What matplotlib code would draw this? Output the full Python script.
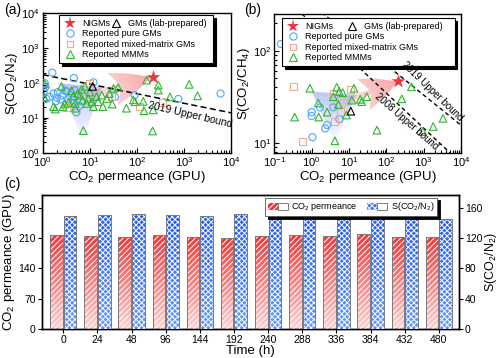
import numpy as np
import matplotlib
matplotlib.use('Agg')
import matplotlib.pyplot as plt
from matplotlib.patches import Polygon, FancyArrowPatch, Patch, ArrowStyle
from matplotlib.lines import Line2D
from matplotlib.legend_handler import HandlerTuple

plt.rcParams['font.family'] = ['Liberation Sans', 'DejaVu Sans']
plt.rcParams['mathtext.fontset'] = 'custom'
plt.rcParams['mathtext.rm'] = 'Liberation Sans'
plt.rcParams['mathtext.it'] = 'Liberation Sans:italic'
plt.rcParams['mathtext.bf'] = 'Liberation Sans:bold'
plt.rcParams['mathtext.default'] = 'regular'
plt.rcParams['hatch.linewidth'] = 0.7

# ---------------- panel (a) data: CO2/N2 ----------------
a_nigm_x = [220]
a_nigm_y = [150]
a_lab_x = [11.5]
a_lab_y = [80]
a_pure_x = [1.6, 4.6, 1.1, 1.15, 1.05, 1.2, 1.7, 2.1, 1.9, 2.4, 3.2, 3.5, 4.5, 4.8,
            5.2, 6.0, 2.6, 12, 34, 90, 760, 6000, 1.4, 3.0, 2.0]
a_pure_y = [200, 140, 100, 78, 58, 35, 50, 55, 30, 34, 58, 34, 33, 62,
            14.5, 22, 45, 105, 40, 45, 35, 50, 40, 60, 38]
a_mix_x = [10, 29, 116, 346, 3.2]
a_mix_y = [100, 41, 21, 27, 20]
a_mmm_x = [1.1, 1.07, 1.7, 1.85, 2.5, 2.7, 3.0, 4.1, 4.5, 4.9, 4.9, 6.2, 6.7, 7.3, 7.9,
           8.6, 9.3, 11, 12, 14, 15, 18, 19, 23, 30, 32, 40, 60, 84, 91, 137, 142, 161,
           216, 222, 285, 285, 505, 1290, 1950, 7.0, 3.5, 5.5, 10, 26]
a_mmm_y = [95, 40, 21, 18, 80, 21, 25, 60, 43, 26, 19, 45, 66, 4.3, 80,
           26, 36, 29, 21, 41, 29, 45, 21, 36, 25, 70, 75, 19, 33, 29, 30, 16, 122,
           4.2, 17, 88, 63, 40, 92, 43, 32, 28, 50, 55, 50]
a_ub2019_x = [1, 1e4]
a_ub2019_y = [175, 14]
a_blue_region_x = [2.3, 18, 7.0]
a_blue_region_y = [98, 75, 2.3]
a_arrow_tail = (5.0, 32.0)
a_arrow_head = (200.0, 145.0)

# ---------------- panel (b) data: CO2/CH4 ----------------
b_nigm_x = [200]
b_nigm_y = [47]
b_lab_x = [11.2]
b_lab_y = [22]
b_pure_x = [0.15, 1.0, 1.0, 1.05, 1.67, 2.3, 2.6, 3.8, 5.5]
b_pure_y = [118, 21.5, 19.5, 11.5, 24.2, 14.3, 15.6, 24.2, 18]
b_mix_x = [0.32, 0.58, 4.0, 6.0, 11.1, 3.8]
b_mix_y = [41, 10.4, 16.9, 21.7, 38, 34.4]
b_mmm_x = [0.9, 0.35, 1.5, 1.55, 2.6, 4.2, 3.8, 4.7, 5.5, 6.8, 8.6, 11.9, 13.6, 20, 22,
           30, 56, 260, 470, 950, 1800, 3300, 5.2]
b_mmm_y = [39, 19, 27, 19, 21.5, 10.5, 31.6, 40, 36, 35, 20, 29, 39, 29.6, 27.9,
           31.6, 13.7, 30, 40.5, 13.2, 15, 18.4, 26]
b_ub2019_x = [0.1, 1e4]
b_ub2019_y = [676, 15.5]
b_ub2008_x = [0.1, 1e4]
b_ub2008_y = [479, 6.0]
b_blue_region_x = [1.0, 16, 4.2]
b_blue_region_y = [36, 33, 10.3]
b_arrow_tail = (3.0, 24.0)
b_arrow_head = (195.0, 46.0)

# ---------------- panel (c) data: stability ----------------
times = ['0', '24', '48', '96', '144', '192', '240', '288', '336', '384', '432', '480']
perm = [217, 214.6, 212.3, 216.9, 213, 210.8, 214.6, 216.2, 214.6, 218.5, 213, 212.3]
sel = [149, 150.3, 151.2, 150.3, 149, 151.2, 151.2, 146, 149, 148.6, 146, 145.5]

RED = '#e8383d'
BLUE = '#4da6ff'
SAL = '#f4a98a'
GRN = '#2db82d'

fig = plt.figure(figsize=(5, 3.58), dpi=100)
axA = fig.add_axes([0.0854, 0.5735, 0.3766, 0.3888])
axB = fig.add_axes([0.5486, 0.5735, 0.3734, 0.3874])
axC = fig.add_axes([0.0834, 0.081, 0.8346, 0.3743])


def gradient_fill(ax, clip_patch, p0, p1, color, a0, a1, z):
    trans = ax.transData + ax.transAxes.inverted()
    q0, q1 = trans.transform([p0, p1])
    n = 300
    xs, ys = np.meshgrid(np.linspace(0, 1, n), np.linspace(0, 1, n))
    d = q1 - q0
    t = ((xs - q0[0]) * d[0] + (ys - q0[1]) * d[1]) / (d @ d)
    t = np.clip(t, 0, 1)
    img = np.zeros((n, n, 4))
    img[..., :3] = color
    img[..., 3] = a0 + (a1 - a0) * t
    im = ax.imshow(img, extent=[0, 1, 0, 1], transform=ax.transAxes, origin='lower',
                   aspect='auto', zorder=z, interpolation='bilinear')
    im.set_clip_path(clip_patch)


def style_log(ax):
    ax.set_xscale('log')
    ax.set_yscale('log')
    ax.tick_params(which='both', direction='in', labelsize=8, width=0.8, pad=2)
    ax.tick_params(which='major', length=3.5)
    ax.tick_params(which='minor', length=2)
    for s in ax.spines.values():
        s.set_linewidth(1.0)


def scatter_sets(ax, pure, mix, mmm, lab, nigm):
    ax.scatter(*pure, s=26, facecolors='none', edgecolors=BLUE, linewidths=0.8, zorder=3)
    ax.scatter(*mix, s=24, marker='s', facecolors='none', edgecolors=SAL, linewidths=0.8, zorder=3)
    ax.scatter(*mmm, s=30, marker='^', facecolors='none', edgecolors=GRN, linewidths=0.8, zorder=3)
    ax.scatter(*lab, s=30, marker='^', facecolors='none', edgecolors='k', linewidths=0.8, zorder=4)
    ax.scatter(*nigm, s=110, marker='*', color=RED, linewidths=0, zorder=5)


def legends(ax, bbox, x2):
    hN = Line2D([], [], ls='none', marker='*', ms=9.5, mfc=RED, mec=RED, mew=0)
    hP = Line2D([], [], ls='none', marker='o', ms=5.2, mfc='none', mec=BLUE, mew=0.8)
    hM = Line2D([], [], ls='none', marker='s', ms=5, mfc='none', mec=SAL, mew=0.8)
    hT = Line2D([], [], ls='none', marker='^', ms=5.6, mfc='none', mec=GRN, mew=0.8)
    hG = Line2D([], [], ls='none', marker='^', ms=5.6, mfc='none', mec='k', mew=0.8)
    kw = dict(fontsize=6.5, borderpad=0.45, labelspacing=0.15, handlelength=1.6,
              handletextpad=0.5, borderaxespad=0)
    leg1 = ax.legend([hN, hP, hM, hT],
                     ['NIGMs', 'Reported pure GMs', 'Reported mixed-matrix GMs', 'Reported MMMs'],
                     loc='upper left', bbox_to_anchor=bbox, mode='expand', frameon=True,
                     fancybox=False, edgecolor='k', framealpha=1,
                     shadow={'color': 'k', 'alpha': 1}, **kw)
    leg1.get_frame().set_linewidth(0.8)
    ax.add_artist(leg1)
    leg2 = ax.legend([hG], ['GMs (lab-prepared)'], loc='upper left',
                     bbox_to_anchor=(x2, bbox[1] + bbox[3]), frameon=False, **kw)
    leg2.set_zorder(7)


# ---------------- panel (a) ----------------
style_log(axA)
axA.set_xlim(1, 1e4)
axA.set_ylim(1, 1e4)
axA.set_autoscale_on(False)
triA = Polygon(np.column_stack([a_blue_region_x, a_blue_region_y]), closed=True,
               facecolor='none', edgecolor='none', transform=axA.transData)
axA.add_patch(triA)
gradient_fill(axA, triA, (7.0, 2.3), (7.0, 95), (0.5, 0.56, 0.93), 0.02, 0.55, 1)
arrA = FancyArrowPatch(a_arrow_tail, a_arrow_head, transform=axA.transData,
                       arrowstyle=ArrowStyle.Fancy(head_length=2.9, head_width=2.4, tail_width=1.1),
                       mutation_scale=10, shrinkA=0, shrinkB=0, facecolor='none', edgecolor='none')
axA.add_patch(arrA)
gradient_fill(axA, arrA, a_arrow_tail, a_arrow_head, (0.95, 0.42, 0.42), 0.05, 0.6, 1)
axA.plot(a_ub2019_x, a_ub2019_y, color='k', lw=1.1, ls=(0, (4, 2.2)), zorder=2)
axA.text(1350, 12.5, '2019 Upper bound', rotation=-13, ha='center', va='center',
         fontsize=7.5, rotation_mode='anchor', zorder=6)
scatter_sets(axA, (a_pure_x, a_pure_y), (a_mix_x, a_mix_y), (a_mmm_x, a_mmm_y),
             (a_lab_x, a_lab_y), (a_nigm_x, a_nigm_y))
axA.set_xlabel('CO$_2$ permeance (GPU)', fontsize=9.5, labelpad=0)
axA.set_ylabel('S(CO$_2$/N$_2$)', fontsize=9.5, labelpad=1)
legends(axA, (0.087, 0.64, 0.817, 0.349), 0.33)

# ---------------- panel (b) ----------------
style_log(axB)
axB.set_xlim(0.1, 1e4)
axB.set_ylim(7.8, 250)
axB.set_autoscale_on(False)
triB = Polygon(np.column_stack([b_blue_region_x, b_blue_region_y]), closed=True,
               facecolor='none', edgecolor='none', transform=axB.transData)
axB.add_patch(triB)
gradient_fill(axB, triB, (4.2, 10.3), (4.2, 36), (0.5, 0.56, 0.93), 0.02, 0.5, 1)
arrB = FancyArrowPatch(b_arrow_tail, b_arrow_head, transform=axB.transData,
                       arrowstyle=ArrowStyle.Fancy(head_length=2.6, head_width=2.4, tail_width=1.1),
                       mutation_scale=10, shrinkA=0, shrinkB=0, facecolor='none', edgecolor='none')
axB.add_patch(arrB)
gradient_fill(axB, arrB, b_arrow_tail, b_arrow_head, (0.95, 0.42, 0.42), 0.05, 0.6, 1)
axB.plot(b_ub2019_x, b_ub2019_y, color='k', lw=1.0, ls=(0, (3, 2.2)), zorder=2)
axB.plot(b_ub2008_x, b_ub2008_y, color='k', lw=1.0, ls=(0, (3, 2.2)), zorder=2)
axB.text(1740, 36.5, '2019 Upper bound', rotation=-44, ha='center', va='center',
         fontsize=7, rotation_mode='anchor', zorder=6)
axB.text(355, 16.9, '2008 Upper bound', rotation=-41, ha='center', va='center',
         fontsize=7, rotation_mode='anchor', zorder=6)
scatter_sets(axB, (b_pure_x, b_pure_y), (b_mix_x, b_mix_y), (b_mmm_x, b_mmm_y),
             (b_lab_x, b_lab_y), (b_nigm_x, b_nigm_y))
axB.set_xlabel('CO$_2$ permeance (GPU)', fontsize=9.5, labelpad=0)
axB.set_ylabel('S(CO$_2$/CH$_4$)', fontsize=9.5, labelpad=1)
legends(axB, (0.041, 0.645, 0.925, 0.326), 0.356)

# ---------------- panel (c) ----------------
axC2 = axC.twinx()
x = np.arange(len(times))
w = 0.37
off = 0.2
axC.set_xlim(-0.63, 11.59)
axC.set_ylim(0, 309)
axC2.set_ylim(0, 176.6)
axC.set_autoscale_on(False)
axC2.set_autoscale_on(False)


def grad_bars(ax, xs, hs, top, bottom, hatch, z):
    bars = ax.bar(xs, hs, width=w, facecolor='none', edgecolor='white', hatch=hatch,
                  linewidth=0, zorder=z + 1)
    for b in bars:
        n = 64
        tt = np.linspace(0, 1, n)[:, None]
        img = np.zeros((n, 1, 3))
        img[:, 0, :] = np.array(bottom) * (1 - tt) + np.array(top) * tt
        im = ax.imshow(img, extent=[b.get_x(), b.get_x() + b.get_width(), 0, b.get_height()],
                       origin='lower', aspect='auto', zorder=z, interpolation='bilinear')
        im.set_clip_path(b)
    ax.bar(xs, hs, width=w, facecolor='none', edgecolor='#7a7a7a', linewidth=0.7, zorder=z + 2)


grad_bars(axC, x - off, perm, (0.93, 0.22, 0.22), (1.0, 0.82, 0.82), '//////', 2)
grad_bars(axC2, x + off, sel, (0.15, 0.36, 0.97), (0.40, 0.60, 1.0), 'xxxxxx', 2)
axC.set_xlim(-0.63, 11.59)
axC.set_ylim(0, 309)
axC2.set_ylim(0, 176.6)
axC.set_aspect('auto')
axC2.set_aspect('auto')
axC.set_xticks(x)
axC.set_xticklabels(times)
axC.set_yticks([0, 70, 140, 210, 280])
axC2.set_yticks([0, 40, 80, 120, 160])
for a in (axC, axC2):
    a.tick_params(labelsize=7.5, width=0.8, length=3, pad=1.2)
    for s in a.spines.values():
        s.set_linewidth(1.0)
axC.set_xlabel('Time (h)', fontsize=9.5, labelpad=0)
axC.set_ylabel('CO$_2$ permeance (GPU)', fontsize=9.5, labelpad=1)
axC2.set_ylabel('S(CO$_2$/N$_2$)', fontsize=9, labelpad=0.5)

hR = (Patch(facecolor=RED, edgecolor='white', hatch='//////', lw=0),
      Patch(facecolor='none', edgecolor='#7a7a7a', lw=0.7))
hB = (Patch(facecolor='#3f6ff5', edgecolor='white', hatch='xxxxxx', lw=0),
      Patch(facecolor='none', edgecolor='#7a7a7a', lw=0.7))
legC = axC2.legend([hR, hB], ['CO$_2$ permeance', 'S(CO$_2$/N$_2$)'], ncol=2,
                   loc='upper left', bbox_to_anchor=(0.535, 0.888, 0.413, 0.092), mode='expand',
                   handler_map={tuple: HandlerTuple(ndivide=None, pad=0)},
                   fontsize=6.5, frameon=True, fancybox=False, edgecolor='#555555', framealpha=1,
                   shadow={'color': 'k', 'alpha': 1}, borderpad=0.3, handlelength=2.2,
                   handleheight=0.9, handletextpad=0.4, columnspacing=1.0, borderaxespad=0)
legC.get_frame().set_linewidth(0.6)
legC.set_zorder(10)

fig.text(0.008, 0.993, '(a)', fontsize=10, ha='left', va='top')
fig.text(0.488, 0.993, '(b)', fontsize=10, ha='left', va='top')
fig.text(0.008, 0.505, '(c)', fontsize=10, ha='left', va='top')

fig.savefig('out.png', dpi=100)
